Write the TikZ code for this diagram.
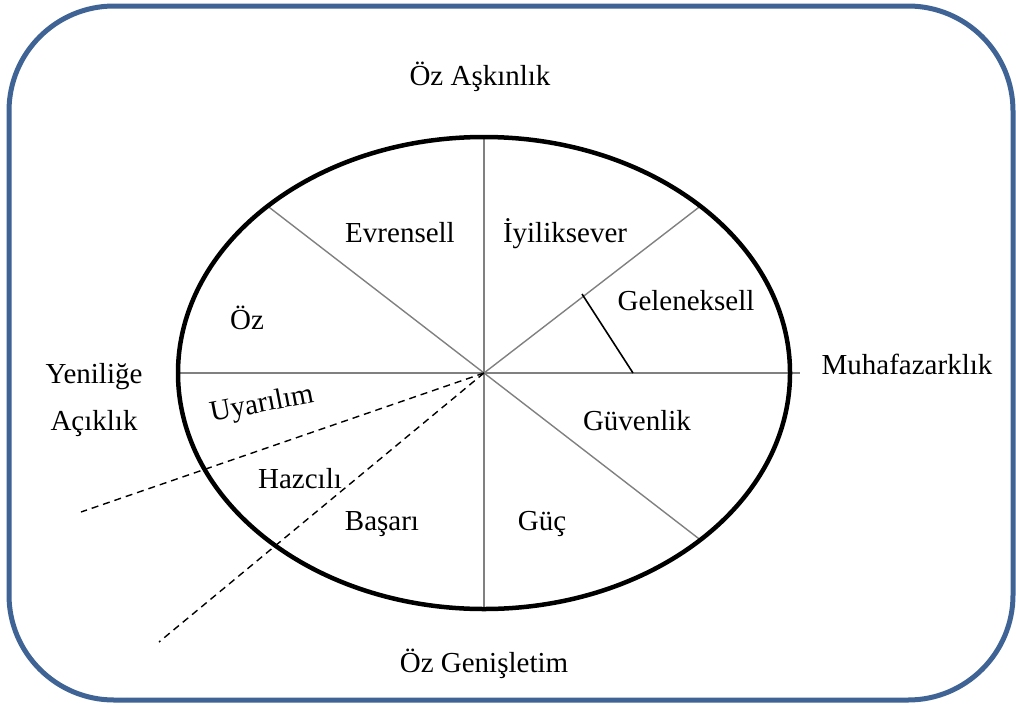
\documentclass[tikz,border=0pt]{standalone}
\usepackage{fontspec}
\setmainfont{Liberation Serif}
\definecolor{frameblue}{RGB}{62,99,148}
\definecolor{spokegray}{RGB}{128,128,128}
\begin{document}
\begin{tikzpicture}[x=1pt,y=-1pt,
  lbl/.style={anchor=base,inner sep=0pt,font=\fontsize{29}{34}\selectfont},
  spoke/.style={draw=spokegray,line width=1.4pt},
  dashline/.style={draw=black,line width=1.4pt,dash pattern=on 7pt off 5pt},
  frame/.style={draw=frameblue,line width=5pt,rounded corners=105pt}]
\useasboundingbox (0,0) rectangle (1016,704);
\draw[frame] (9,6) rectangle (1013,700);
% centre and rim points
\coordinate (c) at (484,373);
\coordinate (top) at (484,137);
\coordinate (bot) at (484,609);
\coordinate (lft) at (178,373);
\coordinate (rgtx) at (800,373);
\coordinate (ul) at (267.6,206.1);
\coordinate (ur) at (700.4,206.1);
\coordinate (lr) at (700.4,539.9);
\coordinate (d1) at (81,512);
\coordinate (d2) at (159,642);
\coordinate (k1) at (582,294);
\coordinate (k2) at (633,373);
% spokes
\draw[spoke] (top) -- (bot);
\draw[spoke] (lft) -- (rgtx);
\draw[spoke] (c) -- (ul);
\draw[spoke] (c) -- (ur);
\draw[spoke] (c) -- (lr);
\draw[dashline] (c) -- (d1);
\draw[dashline] (c) -- (d2);
\draw[black,line width=1.6pt] (k1) -- (k2);
% ellipse
\draw[black,line width=4.5pt] (c) ellipse [x radius=306, y radius=236];
% labels
\node[lbl] (t1) at (480,85) {Öz Aşkınlık};
\node[lbl] (t2) at (400,242) {Evrensell};
\node[lbl] (t3) at (565,242) {İyiliksever};
\node[lbl] (t4) at (247,329) {Öz};
\node[lbl] (t5) at (686,310) {Geleneksell};
\node[lbl] (t6) at (907,374) {Muhafazarklık};
\node[lbl] (t7) at (94,383) {Yeniliğe};
\node[lbl] (t8) at (94,430) {Açıklık};
\node[lbl,anchor=center,rotate=11] (t9) at (262,405) {Uyarılım};
\node[lbl] (t10) at (637,430) {Güvenlik};
\node[lbl] (t11) at (300,488) {Hazcılı};
\node[lbl] (t12) at (382,530) {Başarı};
\node[lbl] (t13) at (542,530) {Güç};
\node[lbl] (t14) at (484,672) {Öz Genişletim};
\end{tikzpicture}
\end{document}
